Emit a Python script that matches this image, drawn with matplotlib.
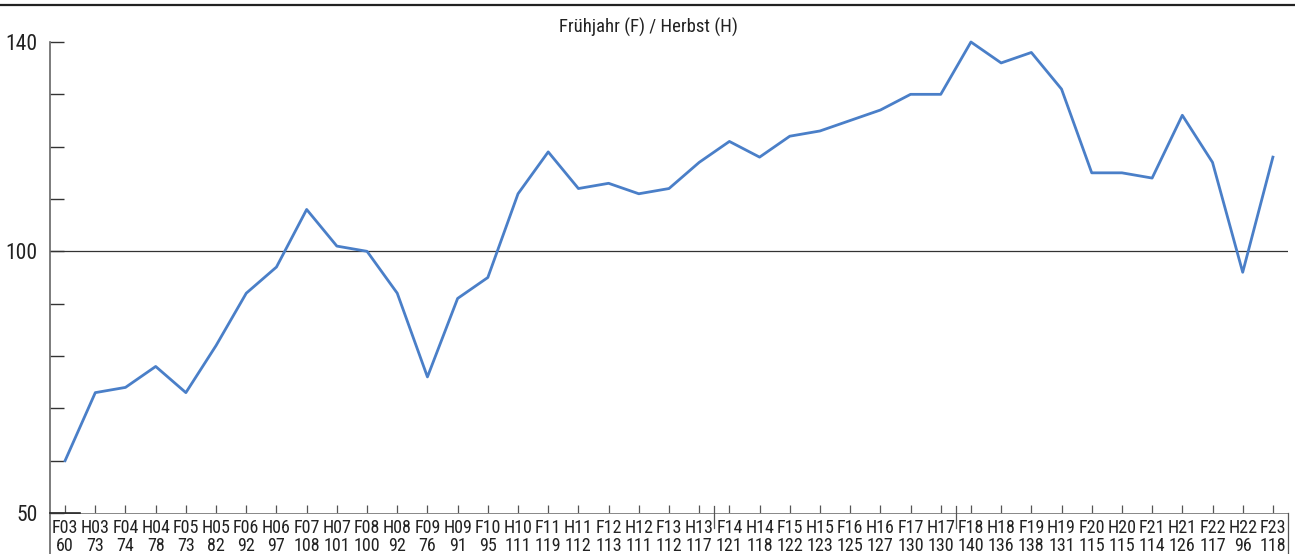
import matplotlib.pyplot as plt
from matplotlib.lines import Line2D
import matplotlib.transforms as mtransforms

# Saison-Codes und Indexwerte
codes = ["F03", "H03", "F04", "H04", "F05", "H05", "F06", "H06", "F07", "H07",
         "F08", "H08", "F09", "H09", "F10", "H10", "F11", "H11", "F12", "H12",
         "F13", "H13", "F14", "H14", "F15", "H15", "F16", "H16", "F17", "H17",
         "F18", "H18", "F19", "H19", "F20", "H20", "F21", "H21", "F22", "H22", "F23"]
values = [60, 73, 74, 78, 73, 82, 92, 97, 108, 101,
          100, 92, 76, 91, 95, 111, 119, 112, 113, 111,
          112, 117, 121, 118, 122, 123, 125, 127, 130, 130,
          140, 136, 138, 131, 115, 115, 114, 126, 117, 96, 118]
separators = [21.5, 29.5]
title = "Frühjahr (F) / Herbst (H)"

plt.rcParams['font.family'] = ['Roboto Condensed', 'Liberation Sans Narrow', 'Roboto', 'DejaVu Sans']

W, H = 1295, 554
fig = plt.figure(figsize=(W / 100, H / 100), dpi=100)
ax = fig.add_axes([50 / W, (H - 513) / H, (1288 - 50) / W, (513 - 42) / H])

x = list(range(len(values)))
ax.plot(x, values, color="#4a7fc8", lw=2.0, clip_on=False, zorder=3)
ax.set_xlim(-0.5, len(values) - 0.5)
ax.set_ylim(50, 140)

for s in ax.spines.values():
    s.set_visible(False)

ax.axhline(100, color="#333333", lw=0.9, zorder=1)

# y ticks
ax.set_yticks([50, 100, 140])
ax.set_yticks(range(60, 140, 10), minor=True)
ax.tick_params(axis='y', which='both', direction='in', length=10, width=1,
               color="#333333", labelsize=15.5, labelcolor="#222222", pad=9)

# x ticks (upward, labels drawn manually)
ax.set_xticks(x)
ax.set_xticklabels([])
ax.tick_params(axis='x', direction='in', length=6, width=0.9, color="#555555")

trans = mtransforms.blended_transform_factory(ax.transData, ax.transAxes)
for i, (c, v) in enumerate(zip(codes, values)):
    ax.text(i, -0.031, c, transform=trans, ha='center', va='center',
            fontsize=13, color="#222222")
    ax.text(i, -0.07, str(v), transform=trans, ha='center', va='center',
            fontsize=13, color="#222222")

# frame lines in pixel coordinates
def px_line(x0, y0, x1, y1, **kw):
    fig.add_artist(Line2D([x0 / W, x1 / W], [1 - y0 / H, 1 - y1 / H],
                          transform=fig.transFigure, **kw))

px_line(0, 5, W, 5, color="#222222", lw=1.6)
px_line(50, 42, 50, H, color="#666666", lw=1.2)
px_line(50, 513, 1288, 513, color="#888888", lw=0.7)
px_line(50, 513, 80, 513, color="#222222", lw=1.2)
px_line(1288, 513, 1288, H, color="#555555", lw=0.9)
for sx in separators:
    xp = 50 + (sx + 0.5) * (1238 / len(values))
    px_line(xp, 506, xp, 528, color="#555555", lw=0.9)

fig.text(648 / W, 1 - 27 / H, title, ha='center', va='center',
         fontsize=13.5, color="#222222")

fig.savefig("out.png", dpi=100)
